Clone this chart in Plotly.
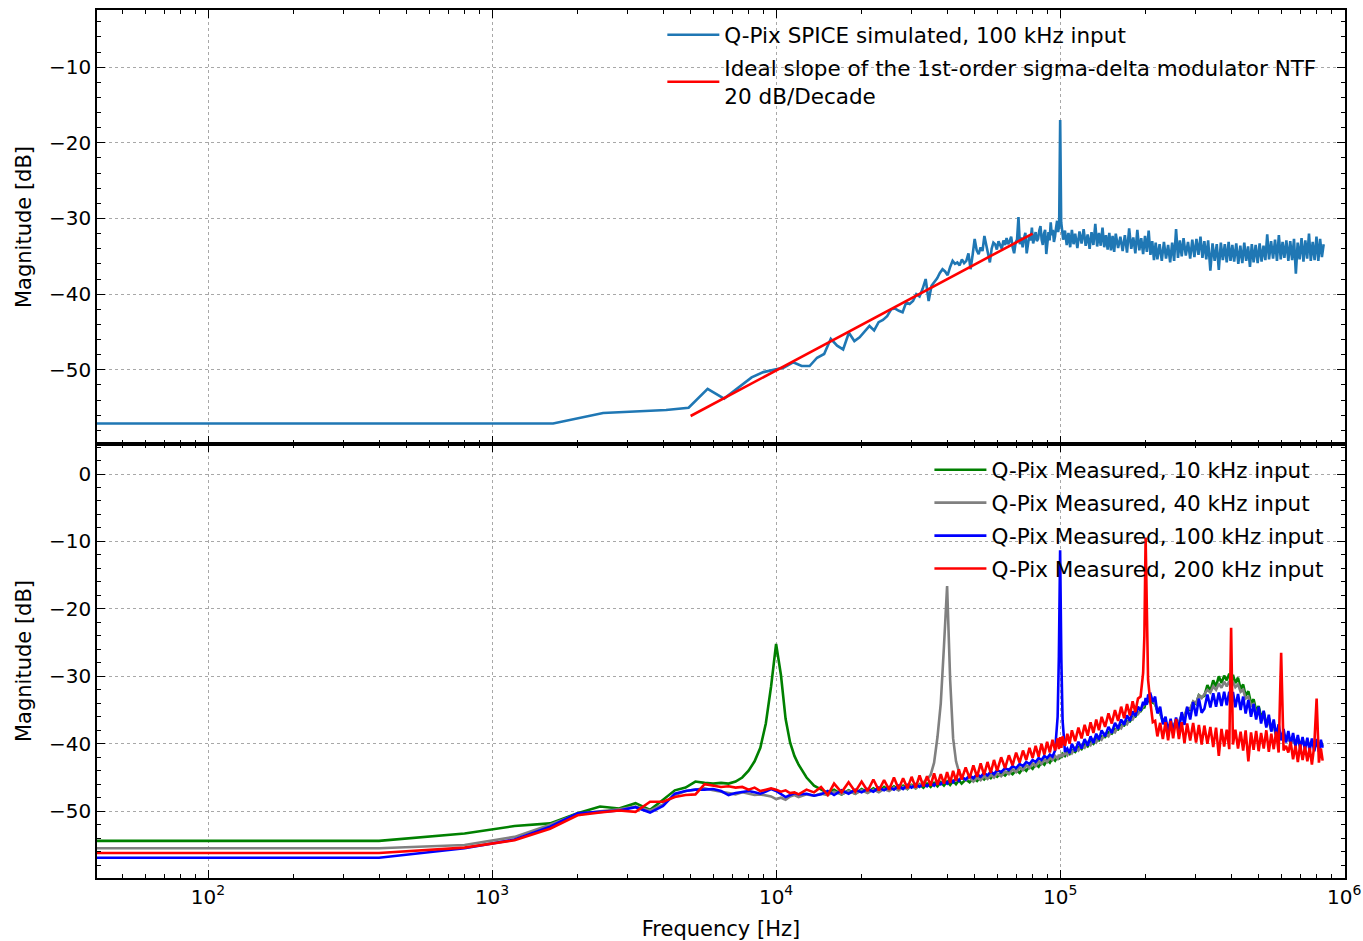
import plotly.graph_objects as go
from plotly.subplots import make_subplots

# ---------------- Top panel: SPICE simulation ----------------
sim_freq_khz = [
    0.02, 0.82, 1.64, 2.46, 3.28, 4.10, 4.92, 5.74, 6.56, 7.38,
    8.20, 9.02, 9.84, 10.66, 11.48, 12.30, 13.12, 13.94, 14.76, 15.58,
    16.40, 17.22, 18.04, 18.86, 19.68, 20.50, 21.32, 22.14, 22.96, 23.78,
    24.60, 25.42, 26.24, 27.06, 27.88, 28.70, 29.52, 30.34, 31.16, 31.98,
    32.80, 33.62, 34.44, 35.26, 36.08, 36.90, 37.72, 38.54, 39.36, 40.18,
    41.00, 41.82, 42.64, 43.46, 44.28, 45.10, 45.92, 46.74, 47.56, 48.38,
    49.20, 50.02, 50.84, 51.66, 52.48, 53.30, 54.12, 54.94, 55.76, 56.58,
    57.40, 58.22, 59.04, 59.86, 60.68, 61.50, 62.32, 63.14, 63.96, 64.78,
    65.60, 66.42, 67.24, 68.06, 68.88, 69.70, 70.52, 71.34, 72.16, 72.98,
    73.80, 74.62, 75.44, 76.26, 77.08, 77.90, 78.72, 79.54, 80.36, 81.18,
    82.00, 82.82, 83.64, 84.46, 85.28, 86.10, 86.92, 87.74, 88.56, 89.38,
    90.20, 91.02, 91.84, 92.66, 93.48, 94.30, 95.12, 95.94, 96.76, 97.58,
    98.40, 99.22, 100.04, 100.86, 101.68, 102.50,
    104, 105.5, 107, 108.5, 110, 111.5, 113, 115, 117, 119,
    121, 123, 125, 127, 129, 131, 133, 135, 137, 139,
    141, 143, 145, 147, 149, 151, 153, 155, 157, 160,
    163, 166, 169, 172, 175, 178, 181, 184, 187, 190,
    193, 196, 199, 202, 205, 208, 211, 214, 217, 220,
    224, 228, 232, 236, 240, 244, 248, 252, 256, 260,
    264, 268, 272, 277, 282, 287, 292, 297, 302, 307,
    312, 317, 322, 327, 332, 338, 344, 350, 356, 362,
    368, 374, 380, 386, 392, 398, 404, 410, 417, 424,
    431, 438, 445, 452, 459, 466, 473, 480, 488, 496,
    504, 512, 520, 528, 536, 544, 553, 562, 571, 580,
    589, 598, 607, 616, 626, 636, 646, 656, 666, 676,
    686, 697, 708, 719, 730, 741, 752, 763, 775, 787,
    799, 811, 823, 835, 847,
]
sim_db = [
    -57.1, -57.1, -57.1, -55.7, -55.45, -55.3, -55.0, -52.5, -53.8, -52.3,
    -51.0, -50.3, -50.0, -49.7, -49.0, -49.5, -49.5, -48.4, -47.9, -45.9,
    -46.8, -47.3, -45.1, -46.2, -45.7, -45.0, -44.2, -44.8, -43.7, -43.4,
    -42.9, -42.0, -41.9, -42.2, -42.4, -41.1, -41.3, -40.9, -40.0, -40.3,
    -39.3, -38.0, -40.9, -38.9, -38.4, -37.9, -37.2, -36.7, -37.0, -37.5,
    -36.4, -35.6, -36.0, -35.8, -36.2, -35.4, -35.9, -35.6, -34.6, -36.7,
    -34.8, -32.7, -34.2, -34.7, -33.8, -34.3, -32.3, -33.6, -34.4, -35.8,
    -34.0, -33.2, -33.4, -34.1, -33.0, -33.6, -34.0, -32.9, -33.5, -32.6,
    -33.4, -33.0, -32.4, -33.8, -34.6, -33.2, -32.8, -29.8, -33.4, -32.5,
    -33.8, -32.6, -31.9, -34.6, -33.0, -32.2, -32.9, -31.2, -33.3, -32.4,
    -31.8, -33.0, -32.7, -31.6, -31.0, -32.8, -33.5, -32.0, -31.5, -34.7,
    -32.6, -31.8, -32.9, -30.5, -32.2, -31.5, -33.1, -32.4, -31.2, -30.3,
    -31.8, -30.9, -17.0, -30.5, -31.6, -32.8,
    -31.6, -33.5, -31.9, -33.8, -31.5, -33.4, -32.0, -33.9, -31.7, -33.3,
    -31.4, -33.6, -32.1, -34.0, -31.8, -33.5, -30.7, -33.7, -31.9, -33.6,
    -31.2, -33.8, -32.2, -34.1, -31.9, -34.2, -32.3, -34.4, -32.0, -33.9,
    -32.4, -34.3, -32.2, -34.5, -31.3, -34.0, -32.5, -34.6, -31.5, -34.2,
    -32.6, -34.7, -32.3, -34.4, -31.6, -34.8, -33.0, -35.5, -33.2, -35.4,
    -33.4, -35.6, -33.1, -35.3, -33.5, -35.8, -33.2, -35.6, -31.4, -35.2,
    -32.9, -35.0, -32.6, -34.9, -33.1, -35.3, -32.8, -35.1, -32.7, -34.8,
    -32.4, -35.2, -33.0, -35.4, -32.9, -36.9, -33.3, -35.6, -33.4, -36.8,
    -33.2, -35.5, -33.4, -35.8, -33.1, -35.6, -33.5, -35.7, -33.3, -36.0,
    -33.6, -35.9, -33.2, -35.6, -33.7, -36.4, -33.4, -35.8, -33.5, -35.9,
    -33.3, -35.7, -33.6, -35.5, -32.1, -35.4, -33.0, -35.3, -32.8, -35.6,
    -32.2, -35.4, -33.1, -35.2, -32.9, -35.6, -33.0, -35.5, -32.7, -37.3,
    -33.2, -35.4, -32.6, -35.7, -32.9, -35.3, -32.0, -35.6, -33.1, -35.5,
    -32.4, -35.6, -32.7, -35.1, -33.4,
]

# Ideal 20 dB/decade slope (1st-order sigma-delta NTF)
ideal_freq_hz = [5000, 80000]
ideal_db = [-56.1, -32.0]

# ---------------- Bottom panel: measured spectra ----------------
meas_freq_khz = [
    0.02, 0.4, 0.8, 1.2, 1.6, 2.0, 2.4, 2.8, 3.2, 3.6,
    4.0, 4.4, 4.8, 5.2, 5.6, 6.0, 6.4, 6.8, 7.2, 7.6,
    8.0, 8.4, 8.8, 9.2, 9.6, 10.0, 10.4, 10.8, 11.2, 11.6,
    12.0, 12.8, 13.6, 14.4, 15.2, 16.0, 17.0, 18.0, 19.0, 20.0,
    21, 22, 23, 24, 25, 26, 27, 28, 29, 30,
    31, 32, 33, 34, 35, 36, 37, 38, 39, 40,
    41, 42, 43, 44, 45, 46.5, 48, 49.5, 51, 52.5,
    54, 55.5, 57, 58.5, 60, 62, 64, 66, 68, 70,
    72, 74, 76, 78, 80, 82, 84, 86, 88, 90,
    92, 94, 96, 98, 99, 100, 101, 102, 104, 106,
    108, 110, 113, 116, 119, 122, 125, 128, 131, 134,
    137, 140, 144, 148, 152, 156, 160, 164, 168, 172,
    176, 180, 184, 188, 192, 196, 198, 200, 202, 204,
    208, 212, 216, 220, 225, 230, 235, 240, 245, 250,
    256, 262, 268, 274, 280, 287, 294, 301, 308, 315,
    322, 330, 338, 346, 354, 362, 370, 378, 386, 394,
    400, 406, 414, 423, 432, 441, 450, 460, 470, 480,
    490, 500, 510, 521, 532, 543, 554, 565, 576, 588,
    600, 612, 624, 636, 648, 661, 674, 687, 700, 714,
    728, 742, 756, 770, 785, 800, 815, 828, 840,
]
meas_10k_db = [
    -54.4, -54.4, -53.3, -52.2, -51.8, -50.3, -49.3, -49.6, -48.8, -49.8,
    -48.3, -46.9, -46.5, -45.6, -45.8, -45.9, -45.8, -45.9, -45.6, -45.0,
    -44.0, -42.6, -40.6, -37.0, -31.5, -25.2, -29.8, -36.3, -39.8, -41.8,
    -43.1, -45.0, -46.2, -46.8, -47.3, -46.8, -47.5, -46.9, -47.4, -46.7,
    -47.2, -46.6, -47.1, -46.4, -46.9, -46.3, -46.8, -46.2, -46.7, -46.1,
    -46.6, -46.0, -46.5, -45.9, -46.4, -45.8, -46.3, -45.7, -46.2, -45.6,
    -46.1, -45.5, -46.0, -45.4, -45.9, -45.3, -45.7, -45.1, -45.5, -44.9,
    -45.3, -44.7, -45.1, -44.5, -44.9, -44.3, -44.7, -44.1, -44.5, -43.9,
    -44.3, -43.6, -44.0, -43.3, -43.7, -43.0, -43.4, -42.7, -43.1, -42.4,
    -42.8, -42.1, -42.5, -41.9, -42.3, -41.7, -42.1, -41.5, -41.8, -41.2,
    -41.5, -40.9, -41.2, -40.5, -40.8, -40.1, -40.4, -39.7, -40.0, -39.3,
    -39.5, -38.9, -39.0, -38.3, -38.5, -37.8, -37.9, -37.2, -37.3, -36.6,
    -36.7, -36.0, -36.0, -35.3, -35.2, -34.6, -34.6, -34.0, -34.0, -33.6,
    -33.5, -33.9, -34.1, -35.1, -35.5, -36.7, -36.8, -37.6, -37.1, -37.6,
    -36.7, -37.0, -35.9, -36.1, -34.9, -35.0, -33.8, -34.1, -32.8, -33.1,
    -32.9, -31.3, -32.2, -30.6, -31.5, -30.0, -31.0, -29.9, -30.6, -29.6,
    -30.7, -29.8, -31.0, -30.2, -31.9, -31.2, -32.9, -32.2, -34.0, -33.4,
    -35.1, -34.4, -36.0, -35.3, -37.0, -36.2, -37.8, -37.0, -38.6, -37.8,
    -39.2, -38.4, -39.6, -38.8, -39.9, -39.0, -40.1, -39.2, -40.3, -39.4,
    -40.4, -39.5, -40.5, -39.6, -40.6, -39.7, -40.7, -39.8, -40.3,
]
meas_40k_db = [
    -55.5, -55.5, -55.0, -53.8, -52.0, -50.4, -50.0, -49.7, -49.3, -49.9,
    -49.0, -47.6, -47.0, -46.8, -46.6, -46.9, -47.1, -47.3, -47.5, -47.2,
    -47.4, -47.6, -47.5, -47.7, -47.8, -48.2, -48.0, -48.3, -47.8, -47.6,
    -47.9, -47.5, -47.7, -47.4, -47.6, -47.1, -47.5, -47.0, -47.4, -46.9,
    -47.3, -46.8, -47.2, -46.7, -47.0, -46.5, -46.9, -46.4, -46.7, -46.2,
    -46.6, -46.1, -45.7, -45.3, -44.6, -42.8, -39.0, -34.0, -25.5, -16.6,
    -30.5, -39.2, -42.6, -44.1, -44.9, -45.4, -45.0, -45.6, -45.0, -45.4,
    -44.8, -45.2, -44.6, -45.0, -44.4, -44.8, -44.1, -44.5, -43.8, -44.2,
    -43.5, -43.9, -43.2, -43.6, -42.9, -43.3, -42.6, -43.0, -42.3, -42.7,
    -42.0, -42.4, -41.8, -42.2, -41.6, -42.0, -41.5, -41.9, -41.3, -41.7,
    -41.0, -41.4, -40.6, -41.0, -40.2, -40.6, -39.8, -40.2, -39.4, -39.8,
    -39.0, -39.4, -38.5, -38.9, -38.0, -38.3, -37.4, -37.7, -36.8, -37.1,
    -36.2, -36.4, -35.6, -35.6, -35.0, -34.5, -34.3, -33.9, -33.6, -33.4,
    -33.2, -33.7, -34.0, -35.1, -35.4, -36.6, -36.7, -37.4, -37.0, -37.4,
    -36.6, -36.7, -35.7, -35.8, -34.7, -34.8, -33.7, -34.0, -32.8, -33.2,
    -32.7, -32.0, -32.4, -31.5, -32.0, -31.1, -31.7, -30.8, -31.5, -30.7,
    -31.4, -30.8, -31.6, -31.2, -32.3, -32.0, -33.3, -33.0, -34.4, -34.1,
    -35.5, -35.1, -36.4, -35.9, -37.3, -36.8, -38.0, -37.6, -38.7, -38.3,
    -39.3, -38.8, -39.6, -39.1, -39.9, -39.4, -40.1, -39.5, -40.2, -39.6,
    -40.3, -39.7, -40.4, -39.8, -40.5, -39.9, -40.5, -40.0, -40.4,
]
meas_100k_db = [
    -56.9, -56.9, -55.5, -54.2, -52.3, -50.3, -50.1, -49.9, -49.4, -50.2,
    -49.2, -47.4, -47.0, -46.8, -46.8, -46.7, -47.0, -47.6, -47.3, -47.1,
    -47.0, -47.2, -47.4, -47.1, -46.7, -47.0, -47.4, -47.9, -47.6, -47.3,
    -47.5, -47.4, -47.7, -47.5, -47.0, -47.6, -46.9, -47.4, -46.8, -47.2,
    -46.7, -47.1, -46.5, -46.9, -46.4, -46.8, -46.2, -46.7, -46.1, -46.5,
    -46.0, -46.4, -45.9, -46.3, -45.8, -46.2, -45.6, -46.0, -45.5, -45.9,
    -45.3, -45.7, -45.1, -45.5, -44.9, -45.3, -44.7, -45.1, -44.5, -44.9,
    -44.3, -44.7, -44.1, -44.5, -43.9, -44.2, -43.6, -43.9, -43.3, -43.6,
    -43.0, -43.3, -42.7, -43.0, -42.4, -42.7, -42.1, -42.4, -41.8, -42.1,
    -41.6, -41.9, -41.0, -36.0, -27.0, -11.3, -27.5, -36.5, -41.2, -40.7,
    -41.4, -40.0, -41.1, -39.7, -40.7, -39.3, -40.3, -38.9, -39.9, -38.5,
    -39.4, -38.0, -38.9, -37.5, -38.4, -36.9, -37.8, -36.4, -37.2, -35.8,
    -36.6, -35.2, -35.9, -34.5, -35.1, -33.8, -34.3, -33.2, -34.2, -32.8,
    -32.6, -33.8, -33.0, -35.5, -34.5, -37.1, -36.0, -38.3, -36.3, -38.4,
    -36.1, -37.9, -35.3, -37.2, -34.5, -36.4, -33.8, -35.9, -33.3, -35.4,
    -34.8, -32.7, -34.6, -32.5, -34.5, -32.4, -34.4, -32.3, -34.3, -32.3,
    -34.4, -32.3, -34.6, -32.6, -35.0, -33.0, -35.5, -33.5, -36.0, -34.1,
    -36.4, -34.5, -37.0, -35.1, -37.6, -35.7, -38.2, -36.4, -38.8, -37.1,
    -39.5, -37.8, -39.8, -38.1, -40.1, -38.4, -40.4, -38.7, -40.7, -39.0,
    -40.9, -39.1, -41.0, -39.2, -41.1, -39.3, -41.2, -39.4, -40.6,
]
meas_200k_db = [
    -56.2, -56.2, -55.4, -54.3, -52.6, -50.6, -50.2, -49.9, -50.1, -48.6,
    -48.6, -47.9, -47.6, -47.5, -46.0, -46.2, -46.4, -46.3, -46.5, -46.4,
    -46.8, -46.5, -47.0, -46.8, -46.6, -46.8, -47.1, -46.9, -47.3, -47.2,
    -47.5, -46.8, -47.2, -46.4, -47.6, -45.9, -47.2, -45.7, -47.1, -45.6,
    -47.0, -45.3, -46.9, -45.4, -46.8, -45.0, -46.7, -45.1, -46.6, -44.9,
    -46.5, -44.7, -46.3, -44.8, -46.2, -44.4, -46.1, -44.5, -45.9, -44.2,
    -45.8, -44.0, -45.5, -43.8, -45.3, -43.5, -45.1, -43.2, -44.9, -42.9,
    -44.6, -42.7, -44.3, -42.4, -44.0, -42.0, -43.6, -41.7, -43.2, -41.3,
    -42.8, -41.0, -42.4, -40.6, -42.1, -40.3, -41.9, -40.0, -41.6, -39.7,
    -41.3, -39.4, -41.0, -39.2, -40.8, -39.0, -40.6, -38.9, -40.3, -38.5,
    -40.0, -38.0, -39.6, -37.6, -39.2, -37.2, -38.8, -36.8, -38.4, -36.4,
    -38.0, -36.0, -37.5, -35.5, -37.0, -35.0, -36.6, -34.5, -36.2, -34.1,
    -35.8, -33.7, -35.3, -33.3, -33.0, -29.5, -24.0, -9.4, -23.5, -30.5,
    -34.0, -36.8, -36.6, -38.9, -36.9, -39.3, -36.8, -39.5, -36.6, -39.2,
    -36.3, -39.3, -36.8, -39.9, -37.0, -39.5, -36.9, -39.8, -37.2, -40.1,
    -37.3, -40.0, -37.5, -40.5, -37.6, -41.8, -37.8, -40.4, -37.9, -40.8,
    -22.8, -40.1, -37.9, -40.7, -38.2, -41.0, -38.0, -42.6, -38.3, -40.9,
    -38.1, -41.1, -38.4, -40.7, -38.0, -41.2, -38.5, -40.8, -38.2, -41.3,
    -26.5, -41.0, -40.3, -41.3, -39.7, -42.3, -40.3, -42.7, -40.1, -42.4,
    -40.4, -42.6, -40.6, -43.1, -40.2, -33.3, -42.8, -40.7, -42.5,
]

for arr in (meas_10k_db, meas_40k_db, meas_100k_db, meas_200k_db):
    assert len(arr) == len(meas_freq_khz), (len(arr), len(meas_freq_khz))
assert len(sim_db) == len(sim_freq_khz), (len(sim_db), len(sim_freq_khz))

decade_ticks = [100, 1000, 10000, 100000, 1000000]
decade_labels = ["10<sup>2</sup>", "10<sup>3</sup>", "10<sup>4</sup>", "10<sup>5</sup>", "10<sup>6</sup>"]

sim_freq_hz = [f * 1000 for f in sim_freq_khz]
meas_freq_hz = [f * 1000 for f in meas_freq_khz]

FONT = "DejaVu Sans"
TICKF = 20
TEXTF = 21
LEGF = 21.5
XRANGE = [1.609, 6.003]

fig = make_subplots(rows=2, cols=1, shared_xaxes=True, vertical_spacing=0)

fig.add_trace(go.Scatter(x=sim_freq_hz, y=sim_db, mode="lines",
                         line=dict(color="#1f77b4", width=2.6),
                         name="Q-Pix SPICE simulated, 100 kHz input",
                         legend="legend", legendgroup="a"), row=1, col=1)
fig.add_trace(go.Scatter(x=ideal_freq_hz, y=ideal_db, mode="lines",
                         line=dict(color="#ff0000", width=2.6),
                         name="Ideal slope of the 1st-order sigma-delta modulator NTF<br>20 dB/Decade",
                         legend="legend", legendgroup="b"), row=1, col=1)

meas = [
    ("Q-Pix Measured, 10 kHz input", meas_10k_db, "#008000"),
    ("Q-Pix Measured, 40 kHz input", meas_40k_db, "#808080"),
    ("Q-Pix Measured, 100 kHz input", meas_100k_db, "#0000ff"),
    ("Q-Pix Measured, 200 kHz input", meas_200k_db, "#ff0000"),
]
for i, (name, vals, col) in enumerate(meas):
    fig.add_trace(go.Scatter(x=meas_freq_hz, y=vals, mode="lines",
                             line=dict(color=col, width=2.6), name=name,
                             legend="legend2", legendgroup="m%d" % i), row=2, col=1)

# empty traces that only carry the minor-tick overlay axes
fig.add_trace(go.Scatter(x=[], y=[], xaxis="x3", yaxis="y", showlegend=False, hoverinfo="skip"))
fig.add_trace(go.Scatter(x=[], y=[], xaxis="x4", yaxis="y2", showlegend=False, hoverinfo="skip"))

minor_x = [m * 10 ** e for e in range(1, 7) for m in range(2, 10)]
common_x = dict(type="log", range=XRANGE, tickmode="array", tickvals=decade_ticks, ticktext=decade_labels,
                showline=True, linecolor="black", linewidth=1.5, mirror="ticks", automargin=False,
                ticks="inside", ticklen=8, tickwidth=1.2, tickcolor="black",
                showgrid=True, gridcolor="#a8a8a8", griddash="dot", gridwidth=1,
                tickfont=dict(size=TICKF, color="black", family=FONT))
fig.update_xaxes(**common_x)
fig.update_xaxes(showticklabels=False, row=1, col=1)
fig.update_xaxes(title=dict(text="Frequency [Hz]", font=dict(size=TEXTF, family=FONT, color="black"), standoff=14),
                 row=2, col=1)

minor_axis = dict(type="log", range=XRANGE, tickmode="array", tickvals=minor_x,
                  showticklabels=False, ticks="inside", ticklen=4, tickwidth=1, tickcolor="black",
                  showline=True, linecolor="black", linewidth=1.5, mirror="ticks",
                  showgrid=False, zeroline=False, automargin=False)
fig.update_layout(
    xaxis3=dict(overlaying="x", anchor="y", **minor_axis),
    xaxis4=dict(overlaying="x2", anchor="y2", **minor_axis),
)

common_y = dict(dtick=10, showline=True, linecolor="black", linewidth=1.5, mirror="ticks", automargin=False,
                ticks="inside", ticklen=8, tickwidth=1.2, tickcolor="black",
                showgrid=True, gridcolor="#a8a8a8", griddash="dot", gridwidth=1, zeroline=False,
                minor=dict(ticks="inside", ticklen=4, tickwidth=1, tickcolor="black", dtick=2, showgrid=False),
                tickfont=dict(size=TICKF, color="black", family=FONT),
                title=dict(text="Magnitude [dB]", font=dict(size=TEXTF, family=FONT, color="black"), standoff=12))
fig.update_yaxes(**common_y)
fig.update_yaxes(range=[-59.8, -2.45], row=1, col=1)
fig.update_yaxes(range=[-59.9, 4.45], row=2, col=1)

fig.update_layout(
    width=1363, height=941,
    margin=dict(l=97, r=18, t=10, b=63),
    paper_bgcolor="white", plot_bgcolor="white",
    font=dict(family=FONT, size=TEXTF, color="black"),
    legend=dict(x=0.453, y=0.995, xanchor="left", yanchor="top", itemwidth=52,
                bgcolor="rgba(0,0,0,0)", font=dict(size=LEGF, family=FONT), tracegroupgap=2),
    legend2=dict(x=0.667, y=0.494, xanchor="left", yanchor="top", itemwidth=52,
                 bgcolor="rgba(0,0,0,0)", font=dict(size=LEGF, family=FONT), tracegroupgap=2),
    showlegend=True,
)

fig.write_html("out.html",
               config={"displayModeBar": False},
               post_script="document.body.style.margin='0';document.body.style.overflow='hidden';")
